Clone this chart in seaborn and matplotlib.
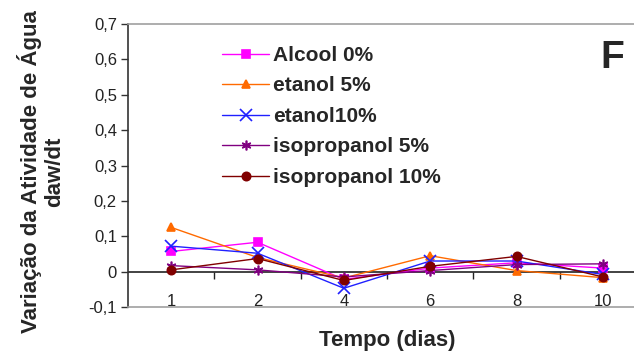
import pandas as pd
import seaborn as sns
import matplotlib.pyplot as plt
from matplotlib.lines import Line2D

dias = ["1", "2", "4", "6", "8", "10"]
alcool_0 = [0.057, 0.083, -0.022, 0.010, 0.025, 0.010]
etanol_5 = [0.125, 0.040, -0.018, 0.045, 0.003, -0.017]
etanol_10 = [0.072, 0.052, -0.047, 0.030, 0.030, -0.008]
isopropanol_5 = [0.017, 0.005, -0.015, 0.003, 0.020, 0.022]
isopropanol_10 = [0.005, 0.037, -0.025, 0.015, 0.043, -0.015]

series = ["Alcool 0%", "etanol 5%", "etanol10%", "isopropanol 5%", "isopropanol 10%"]
valores = [alcool_0, etanol_5, etanol_10, isopropanol_5, isopropanol_10]
cores = ["#FF00FF", "#FF6A00", "#2020FF", "#800080", "#800000"]
marcadores = ["s", "^", "x", (6, 2, 0), "o"]
tamanhos = [6, 6, 9, 7, 6]

yticks = [-0.1, 0, 0.1, 0.2, 0.3, 0.4, 0.5, 0.6, 0.7]
ylabels = ["-0,1", "0", "0,1", "0,2", "0,3", "0,4", "0,5", "0,6", "0,7"]

sns.set_style("white")
plt.rcParams["font.family"] = ["Liberation Sans", "DejaVu Sans"]

fig = plt.figure(figsize=(6.34, 3.58), dpi=100)
ax = fig.add_axes([128 / 634, 1 - 307 / 358, 518 / 634, 283 / 358])

for nome, vals, cor, m, ms in zip(series, valores, cores, marcadores, tamanhos):
    df = pd.DataFrame({"dia": dias, "valor": vals})
    sns.lineplot(data=df, x="dia", y="valor", ax=ax, color=cor, marker=m,
                 markersize=ms, markeredgecolor=cor, markeredgewidth=1.2,
                 linewidth=1.0, label=nome, sort=False)

ax.set_xlim(-0.5, 5.5)
ax.set_ylim(-0.1, 0.7)
ax.set_yticks(yticks)
ax.set_yticklabels(ylabels, fontsize=12)
ax.tick_params(axis="y", direction="out", length=5, width=1, color="#333333",
               left=True, pad=3, labelcolor="#222222")
ax.tick_params(axis="x", length=0, pad=-9.5, labelsize=12, labelcolor="#222222")

for s in ["top", "right", "bottom"]:
    ax.spines[s].set_color("#a0a0a0")
    ax.spines[s].set_linewidth(1.2)
ax.spines["left"].set_color("#333333")
ax.spines["left"].set_linewidth(1.2)

# linha do zero com marcas entre categorias
ax.axhline(0, color="#222222", linewidth=1.2, zorder=1)
sec = ax.secondary_xaxis(0.125)
sec.set_xticks([0.5, 1.5, 2.5, 3.5, 4.5])
sec.set_xticklabels([])
sec.tick_params(direction="out", length=5, width=1, color="#222222")
sec.spines["bottom"].set_visible(False)

ax.set_xlabel("Tempo (dias)", fontsize=16, fontweight="bold", labelpad=0)
ax.xaxis.set_label_coords(0.5, -0.08)
ax.set_ylabel("Variação da Atividade de Água\ndaw/dt", fontsize=16,
              fontweight="bold", linespacing=1.1)
ax.yaxis.set_label_coords(-0.122, 0.477)

handles = [Line2D([], [], color=c, marker=m, markersize=ms, markeredgecolor=c,
                  markeredgewidth=1.2, linewidth=1.0)
           for c, m, ms in zip(cores, marcadores, tamanhos)]
ax.legend(handles, series, loc="upper left",
          bbox_to_anchor=(222 / 634, 1 - 46 / 358), bbox_transform=fig.transFigure,
          frameon=False, borderpad=0, borderaxespad=0, handlelength=2.26,
          handletextpad=0.2, labelspacing=0.55,
          prop={"weight": "bold", "size": 15})

fig.text(612 / 634, 1 - 58 / 358, "F", fontsize=28, fontweight="bold",
         ha="center", va="center")

fig.savefig("out.png", dpi=100)
